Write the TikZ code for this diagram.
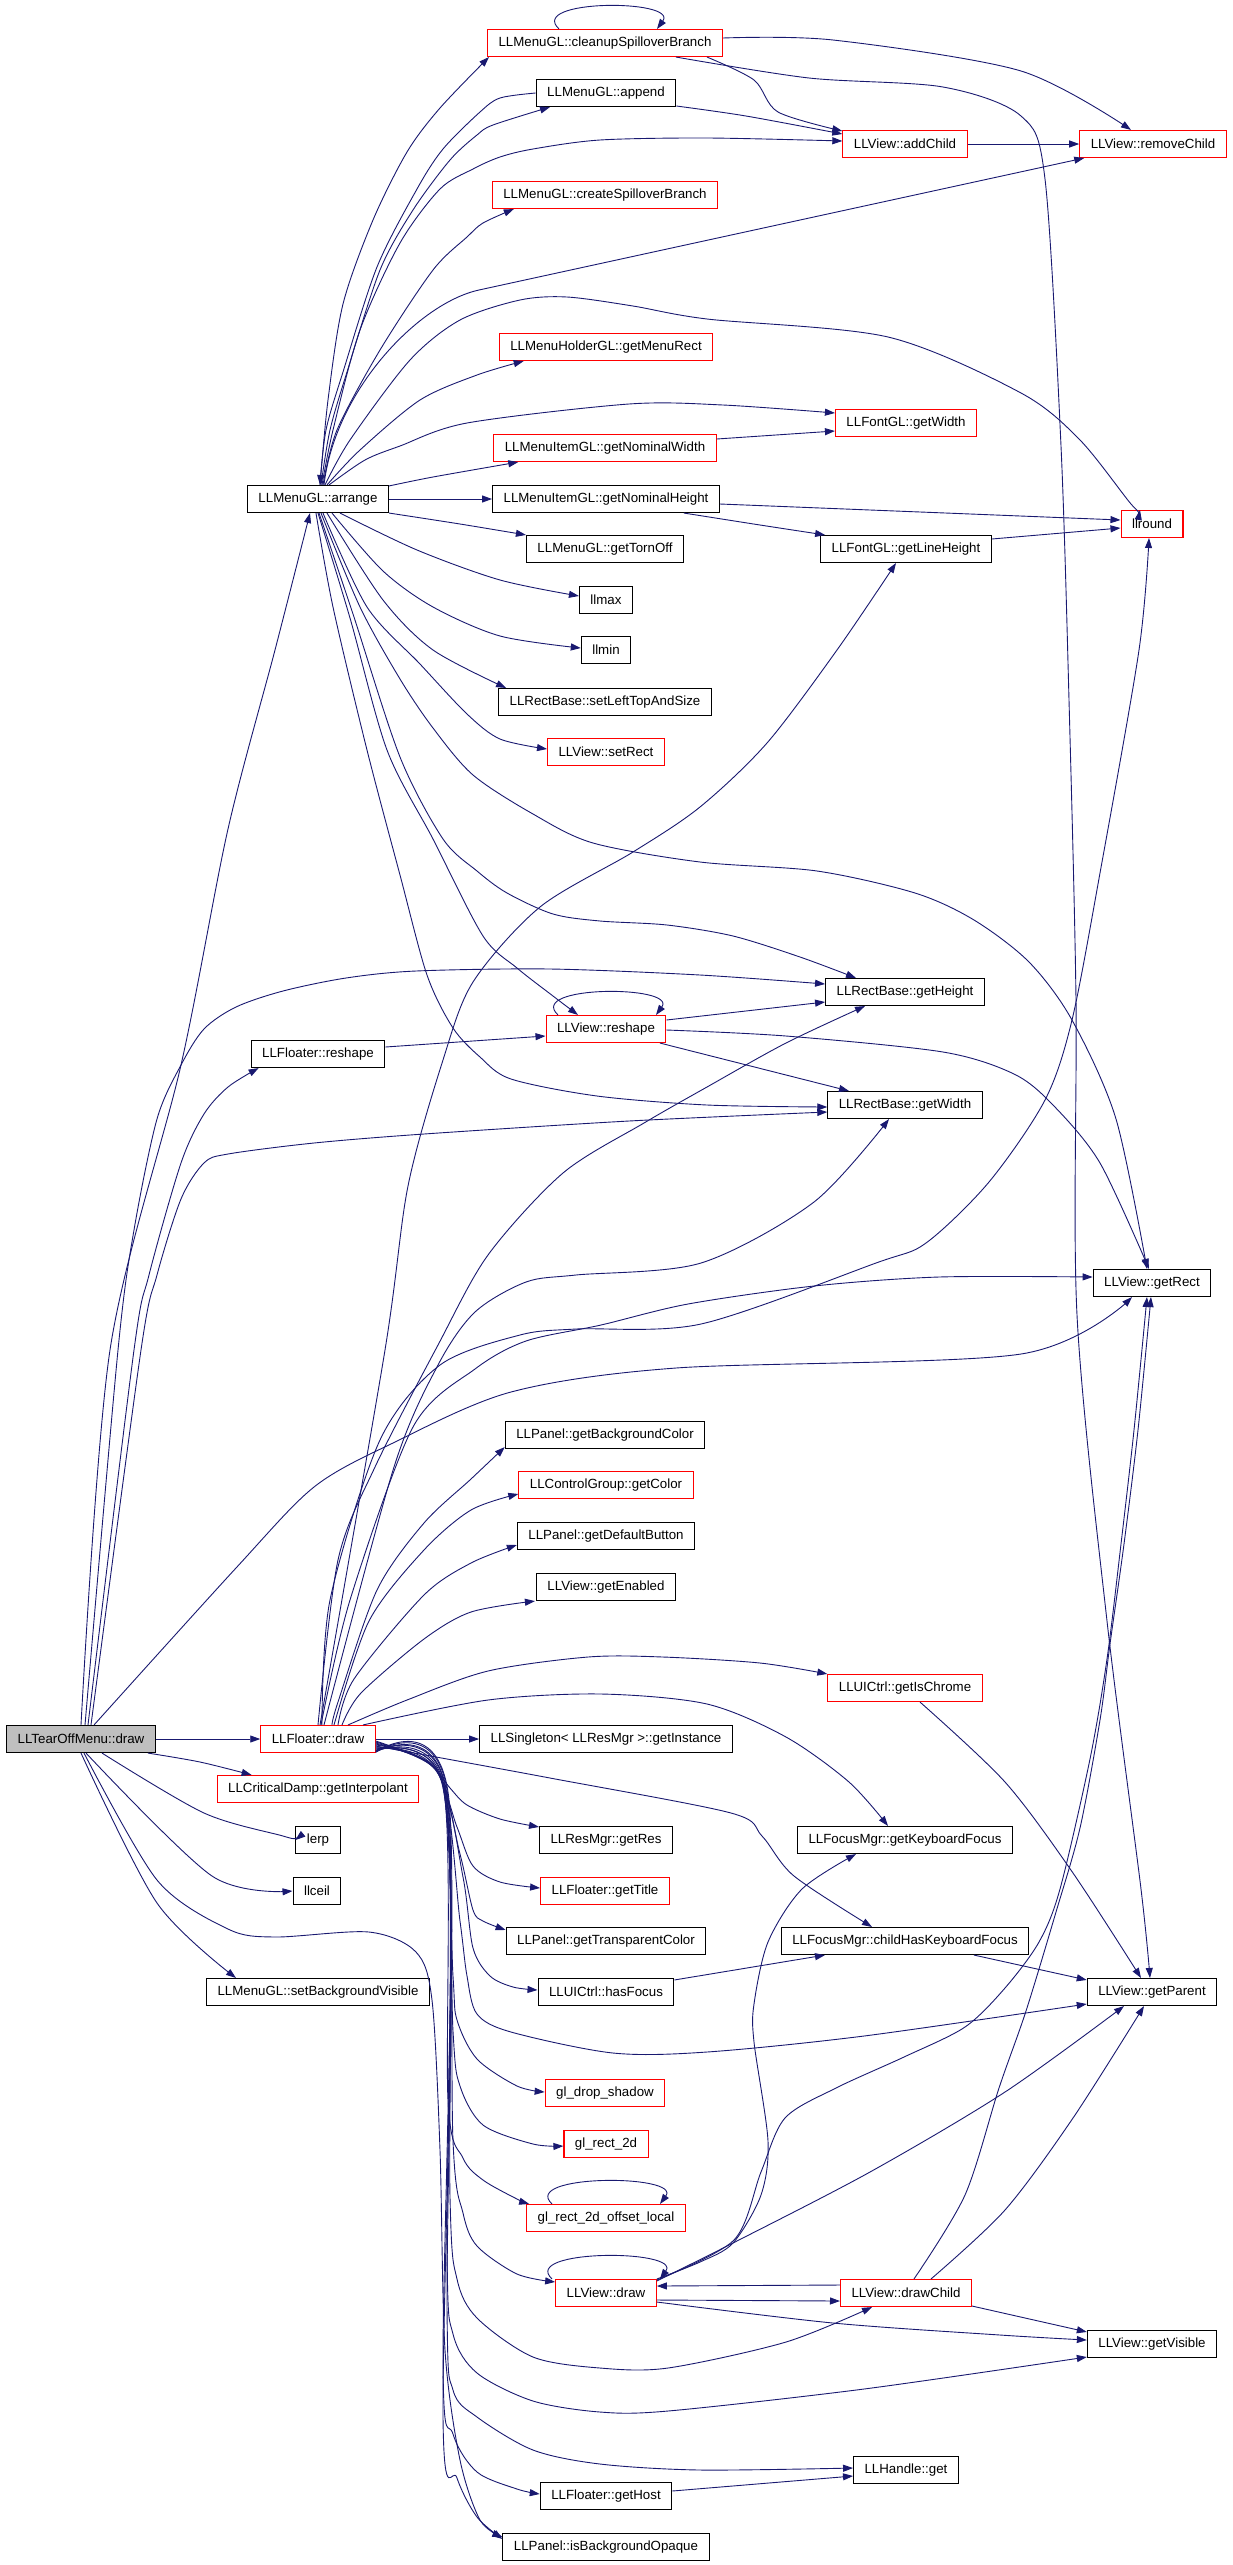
\documentclass[tikz,border=0pt]{standalone}
\usepackage{fontspec}
\setmainfont{Liberation Sans}
\usetikzlibrary{arrows.meta}
\definecolor{navy}{RGB}{25,25,112}
\definecolor{rootgray}{RGB}{191,191,191}
\newcommand\fnsize{\fontsize{13.3pt}{16pt}\selectfont}
\begin{document}
\begin{tikzpicture}[x=1pt,y=-1pt,
  fn/.style={draw=black,fill=white,line width=1.1pt,inner xsep=11pt,inner ysep=0pt,minimum height=27pt,font=\fnsize},
  fnred/.style={fn,draw=red},
  call/.style={navy,line width=0.9pt,-{Triangle[length=10pt,width=7pt]}}]
\useasboundingbox (0,0) rectangle (1232,2565);
\node[fnred] (cleanup) at (605,43) {LLMenuGL::cleanupSpilloverBranch};
\node[fn] (append) at (606,93) {LLMenuGL::append};
\node[fnred] (addChild) at (905,144) {LLView::addChild};
\node[fnred] (removeChild) at (1153,144) {LLView::removeChild};
\node[fnred] (createSpill) at (605,195) {LLMenuGL::createSpilloverBranch};
\node[fnred] (menuRect) at (606,347) {LLMenuHolderGL::getMenuRect};
\node[fnred] (fontWidth) at (906,423) {LLFontGL::getWidth};
\node[fnred] (nomWidth) at (605,448) {LLMenuItemGL::getNominalWidth};
\node[fn] (arrange) at (318,499) {LLMenuGL::arrange};
\node[fn] (nomHeight) at (606,499) {LLMenuItemGL::getNominalHeight};
\node[fnred] (llround) at (1152,524) {llround};
\node[fn] (tornOff) at (605,549) {LLMenuGL::getTornOff};
\node[fn] (lineHeight) at (906,549) {LLFontGL::getLineHeight};
\node[fn] (llmax) at (606,600) {llmax};
\node[fn] (llmin) at (606,650) {llmin};
\node[fn] (setLTS) at (605,702) {LLRectBase::setLeftTopAndSize};
\node[fnred] (setRect) at (606,752) {LLView::setRect};
\node[fn] (getHeight) at (905,992) {LLRectBase::getHeight};
\node[fnred] (vreshape) at (606,1029) {LLView::reshape};
\node[fn] (freshape) at (318,1054) {LLFloater::reshape};
\node[fn] (getWidth) at (905,1105) {LLRectBase::getWidth};
\node[fn] (getRect) at (1152,1283) {LLView::getRect};
\node[fn] (bgColor) at (605,1435) {LLPanel::getBackgroundColor};
\node[fnred] (ctrlColor) at (606,1485) {LLControlGroup::getColor};
\node[fn] (defButton) at (606,1536) {LLPanel::getDefaultButton};
\node[fn] (enabled) at (606,1587) {LLView::getEnabled};
\node[fnred] (isChrome) at (905,1688) {LLUICtrl::getIsChrome};
\node[fn,fill=rootgray] (tearoff) at (81,1739) {LLTearOffMenu::draw};
\node[fnred] (fdraw) at (318,1739) {LLFloater::draw};
\node[fn] (instance) at (606,1739) {LLSingleton< LLResMgr >::getInstance};
\node[fnred] (interp) at (318,1789) {LLCriticalDamp::getInterpolant};
\node[fn] (lerp) at (318,1840) {lerp};
\node[fn] (resGet) at (606,1840) {LLResMgr::getRes};
\node[fn] (kbFocus) at (905,1840) {LLFocusMgr::getKeyboardFocus};
\node[fn] (llceil) at (317,1891) {llceil};
\node[fnred] (title) at (605,1891) {LLFloater::getTitle};
\node[fn] (transp) at (606,1941) {LLPanel::getTransparentColor};
\node[fn] (childKb) at (905,1941) {LLFocusMgr::childHasKeyboardFocus};
\node[fn] (setBgVis) at (318,1992) {LLMenuGL::setBackgroundVisible};
\node[fn] (hasFocus) at (606,1992) {LLUICtrl::hasFocus};
\node[fn] (getParent) at (1152,1992) {LLView::getParent};
\node[fnred] (dropShadow) at (605,2093) {gl\_drop\_shadow};
\node[fnred] (rect2d) at (606,2144) {gl\_rect\_2d};
\node[fnred] (rectLocal) at (606,2218) {gl\_rect\_2d\_offset\_local};
\node[fnred] (vdraw) at (606,2293) {LLView::draw};
\node[fnred] (drawChild) at (906,2293) {LLView::drawChild};
\node[fn] (getVisible) at (1152,2344) {LLView::getVisible};
\node[fn] (handleGet) at (906,2470) {LLHandle::get};
\node[fn] (getHost) at (606,2496) {LLFloater::getHost};
\node[fn] (bgOpaque) at (606,2547) {LLPanel::isBackgroundOpaque};

\draw[call] plot[smooth] coordinates {([xshift=2pt]arrange.north) (328,400) (343,304) (373,220) (407,152) (440,108) ([xshift=2pt]cleanup.south west)};
\draw[call] plot[smooth] coordinates {(append.west) (500,98) (480,112) (443,149) (417,189) (377,267) (343,372) (326,430) ([xshift=2pt]arrange.north)};
\draw[call] plot[smooth] coordinates {([xshift=3pt]arrange.north) (330,430) (347,372) (380,270) (413,210) (450,160) (477,135) (493,125) ([xshift=-56pt]append.south)};
\draw[call] plot[smooth] coordinates {([xshift=4pt]arrange.north) (333,430) (360,330) (400,243) (440,189) (473,169) (500,157) (533,149) (600,140) (707,138) ([yshift=3pt]addChild.west)};
\draw[call] plot[smooth] coordinates {([xshift=5pt]arrange.north) (337,430) (380,350) (433,270) (467,237) (483,223) ([xshift=22pt]createSpill.south west)};
\draw[call] ([xshift=6pt]arrange.north) .. controls (335,390) and (419,303) .. (479,290) -- ([xshift=5pt]removeChild.south west);
\draw[call] plot[smooth] coordinates {([xshift=7pt]arrange.north) (350,440) (410,360) (460,320) (520,300) (567,297) (633,306) (707,319) (888,337) (1021,393) (1080,440) (1131,504) ([xshift=-12pt]llround.north)};
\draw[call] plot[smooth] coordinates {([xshift=9pt]arrange.north) (360,450) (420,400) (477,375) ([xshift=25pt]menuRect.south west)};
\draw[call] plot[smooth] coordinates {([xshift=11pt]arrange.north) (365,460) (400,446) (467,423) (629,404) (723,405) ([yshift=10pt]fontWidth.west)};
\draw[call] plot[smooth] coordinates {([yshift=-1pt]arrange.north east) (433,477) ([xshift=25pt]nomWidth.south west)};
\draw[call] (arrange.east) -- (nomHeight.west);
\draw[call] plot[smooth] coordinates {(arrange.south east) (460,524) (tornOff.north west)};
\draw[call] plot[smooth] coordinates {([xshift=22pt]arrange.south) (417,550) (500,580) ([yshift=4pt]llmax.west)};
\draw[call] plot[smooth] coordinates {([xshift=14pt]arrange.south) (383,571) (433,607) (500,636) ([yshift=2pt]llmin.west)};
\draw[call] plot[smooth] coordinates {([xshift=9pt]arrange.south) (383,600) (433,650) ([xshift=8pt]setLTS.north west)};
\draw[call] plot[smooth] coordinates {([xshift=5pt]arrange.south) (367,607) (420,664) (467,714) (500,739) ([yshift=3pt]setRect.west)};
\draw[call] plot[smooth] coordinates {([xshift=3pt]arrange.south) (360,607) (400,679) (433,728) (473,775) (533,814) (593,843) (700,862) (817,871) (915,893) (974,920) (1029,962) (1072,1020) (1116,1119) ([xshift=-5pt]getRect.north)};
\draw[call] plot[smooth] coordinates {([xshift=1pt]arrange.south) (353,614) (400,757) (443,839) (477,871) (507,893) (553,914) (600,921) (667,925) (733,936) (800,957) ([xshift=-49pt]getHeight.north)};
\draw[call] plot[smooth] coordinates {(arrange.south) (350,618) (387,750) (433,839) (483,936) (517,968) (553,996) ([xshift=-28pt]vreshape.north)};
\draw[call] plot[smooth] coordinates {([xshift=-2pt]arrange.south) (333,607) (367,750) (400,875) (427,975) (453,1028) (480,1057) (511,1079) (597,1096) (707,1105) ([yshift=-2pt]getWidth.west)};

\draw[call] ([xshift=-46pt]cleanup.north) .. controls +(-32,-30) and +(22,-30) .. ([xshift=52pt]cleanup.north);
\draw[call] plot[smooth] coordinates {([xshift=102pt]cleanup.south) (754,80) (778,112) ([yshift=13pt]addChild.west)};
\draw[call] plot[smooth] coordinates {([yshift=5pt]cleanup.east) (833,40) (1021,71) ([xshift=-22pt]removeChild.north)};
\draw[call] plot[smooth] coordinates {([xshift=71pt]cleanup.south) (809,78) (943,87) (1021,116) (1045,179) (1061,446) (1069,700) (1076,1000) (1077,1315) (1107,1621) (1141,1889) ([xshift=-2pt]getParent.north)};
\draw[call] plot[smooth] coordinates {([yshift=-13pt]append.east) (746,116) ([yshift=10pt]addChild.west)};
\draw[call] (addChild.east) -- (removeChild.west);
\draw[call] ([yshift=9pt]nomWidth.east) -- ([yshift=-8pt]fontWidth.west);
\draw[call] ([yshift=-5pt]nomHeight.east) -- ([yshift=4pt]llround.west);
\draw[call] plot[smooth] coordinates {([xshift=78pt]nomHeight.south) (760,525) ([xshift=5pt]lineHeight.north west)};
\draw[call] ([yshift=10pt]lineHeight.east) -- ([yshift=-4pt]llround.west);

\draw[call] ([xshift=-48pt]vreshape.north) .. controls +(-32,-30) and +(22,-30) .. ([xshift=50pt]vreshape.north);
\draw[call] ([yshift=7pt]freshape.east) -- ([yshift=-7pt]vreshape.west);
\draw[call] ([yshift=9pt]vreshape.east) -- ([yshift=-10pt]getHeight.west);
\draw[call] ([xshift=54pt]vreshape.south) -- ([xshift=-56pt]getWidth.north);
\draw[call] plot[smooth] coordinates {([yshift=-1pt]vreshape.east) (786,1036) (943,1052) (1014,1074) (1053,1105) (1100,1163) ([xshift=-3pt]getRect.north)};

\draw[call] plot[smooth] coordinates {(tearoff.north) (110,1350) (181,1065) (228,829) (275,650) ([xshift=-8pt]arrange.south)};
\draw[call] plot[smooth] coordinates {([xshift=7pt]tearoff.north) (134,1350) (149,1275) (181,1163) (204,1114) (228,1087) ([xshift=8pt]freshape.south west)};
\draw[call] plot[smooth] coordinates {([xshift=4pt]tearoff.north) (118,1350) (134,1230) (157,1119) (181,1065) (204,1029) (236,1007) (283,991) (346,978) (416,971) (550,969) (700,975) ([yshift=8pt]getHeight.west)};
\draw[call] plot[smooth] coordinates {([xshift=10pt]tearoff.north) (141,1350) (157,1275) (181,1199) (204,1163) (228,1154) (314,1143) (424,1134) (629,1121) ([yshift=-7pt]getWidth.west)};
\draw[call] plot[smooth] coordinates {([xshift=13pt]tearoff.north) (236,1568) (314,1487) (393,1443) (511,1392) (676,1368) (1021,1354) ([xshift=-20pt]getRect.south)};
\draw[call] (tearoff.east) -- (fdraw.west);
\draw[call] plot[smooth] coordinates {([xshift=-8pt]tearoff.south east) (200,1762) ([xshift=35pt]interp.north west)};
\draw[call] plot[smooth] coordinates {([xshift=21pt]tearoff.south) (204,1813) (283,1836) (lerp.west)};
\draw[call] plot[smooth] coordinates {([xshift=5pt]tearoff.south) (212,1876) (llceil.west)};
\draw[call] plot[smooth] coordinates {(tearoff.south) (157,1903) ([xshift=-82pt]setBgVis.north)};
\draw[call] plot[smooth] coordinates {([xshift=3pt]tearoff.south) (157,1880) (228,1929) (275,1937) (369,1932) (416,1952) (432,2000) (440,2150) (445,2350) (460,2460) (480,2520) ([yshift=-4pt]bgOpaque.north west)};

\draw[call] plot[smooth] coordinates {([xshift=2pt]fdraw.north) (385,1350) (408,1186) (443,1060) (473,982) (540,907) (633,852) (700,807) (767,743) (837,650) ([xshift=-10pt]lineHeight.south)};
\draw[call] plot[smooth] coordinates {([xshift=4pt]fdraw.north) (330,1600) (380,1440) (440,1365) (520,1335) (576,1329) (701,1324) (876,1263) (926,1243) (989,1182) (1045,1100) (1072,1020) (1100,873) (1139,650) ([xshift=-3pt]llround.south)};
\draw[call] plot[smooth] coordinates {(fdraw.north) (338,1560) (375,1467) (438,1345) (488,1255) (563,1173) (644,1123) (707,1087) (786,1043) ([xshift=-40pt]getHeight.south)};
\draw[call] plot[smooth] coordinates {([xshift=6pt]fdraw.north) (394,1467) (438,1365) (475,1312) (526,1282) (576,1275) (701,1263) (814,1202) ([xshift=-16pt]getWidth.south)};
\draw[call] plot[smooth] coordinates {([xshift=3pt]fdraw.north) (350,1600) (413,1427) (475,1369) (526,1341) (601,1325) (688,1304) (814,1286) (939,1277) ([yshift=6pt]getRect.west)};
\draw[call] plot[smooth] coordinates {([xshift=14pt]fdraw.north) (338,1702) (377,1590) (424,1523) (471,1479) ([yshift=2pt]bgColor.south west)};
\draw[call] plot[smooth] coordinates {([xshift=16pt]fdraw.north) (369,1621) (424,1550) (471,1510) ([yshift=-9pt]ctrlColor.west)};
\draw[call] plot[smooth] coordinates {([xshift=20pt]fdraw.north) (354,1679) (424,1595) (471,1563) ([yshift=-9pt]defButton.west)};
\draw[call] plot[smooth] coordinates {([xshift=24pt]fdraw.north) (361,1693) (424,1639) (471,1612) ([xshift=-1pt]enabled.south west)};
\draw[call] plot[smooth] coordinates {([xshift=30pt]fdraw.north) (407,1700) (488,1671) (588,1657) (663,1657) (760,1663) (isChrome.north west)};
\draw[call] plot[smooth] coordinates {([xshift=45pt]fdraw.north) (488,1700) (601,1694) (707,1704) (786,1737) (849,1782) ([xshift=-17pt]kbFocus.north)};
\draw[call] (fdraw.east) -- (instance.west);
\draw[call] plot[smooth] coordinates {([yshift=-7pt]fdraw.east) (550,1778) (731,1813) (762,1836) (794,1876) ([xshift=-33pt]childKb.north)};

\draw[call] plot[smooth] coordinates {([yshift=-2pt]fdraw.east) (427,1761) (450,1788) (467,1805) (500,1819) ([yshift=-1pt]resGet.north west)};
\draw[call] plot[smooth] coordinates {([yshift=-3pt]fdraw.east) (433,1766) (457,1827) (473,1866) (500,1882) ([yshift=3pt]title.west)};
\draw[call] plot[smooth] coordinates {([yshift=-4pt]fdraw.east) (436,1770) (460,1854) (473,1910) (483,1921) ([yshift=-3pt]transp.north west)};
\draw[call] plot[smooth] coordinates {([yshift=-5pt]fdraw.east) (438,1772) (463,1877) (473,1948) (490,1976) (513,1987) ([yshift=2pt]hasFocus.west)};
\draw[call] plot[smooth] coordinates {([yshift=-6pt]fdraw.east) (440,1775) (460,1921) (467,1976) (477,2014) (511,2032) (613,2053) (707,2052) (864,2036) ([yshift=-12pt]getParent.west)};
\draw[call] plot[smooth] coordinates {([yshift=-8pt]fdraw.east) (441,1780) (453,1976) (457,2020) (477,2059) (517,2086) ([yshift=1pt]dropShadow.west)};
\draw[call] plot[smooth] coordinates {([yshift=-9pt]fdraw.east) (442,1782) (453,2031) (460,2086) (483,2125) (533,2144) ([yshift=-2pt]rect2d.west)};
\draw[call] plot[smooth] coordinates {([yshift=-10pt]fdraw.east) (443,1785) (448,2100) (463,2158) (483,2180) (517,2199) ([xshift=3pt]rectLocal.north west)};
\draw[call] plot[smooth] coordinates {([yshift=-11pt]fdraw.east) (444,1788) (453,2141) (463,2213) (477,2246) (517,2274) ([yshift=-3pt]vdraw.north west)};
\draw[call] plot[smooth] coordinates {([yshift=-12pt]fdraw.east) (445,1790) (450,2197) (457,2279) (477,2318) (533,2357) (600,2368) (668,2368) (786,2342) ([xshift=-34pt]drawChild.south)};
\draw[call] plot[smooth] coordinates {([yshift=-12pt]fdraw.east) (446,1792) (447,2252) (453,2334) (477,2373) (533,2401) (600,2412) (668,2411) (864,2389) ([yshift=-13pt]getVisible.west)};
\draw[call] plot[smooth] coordinates {([yshift=-13pt]fdraw.east) (447,1795) (447,2307) (453,2390) (477,2417) (533,2450) (600,2464) (700,2470) ([yshift=2pt]handleGet.west)};
\draw[call] plot[smooth] coordinates {([yshift=-13pt]fdraw.east) (448,1797) (443,2362) (453,2434) (477,2472) (517,2489) ([yshift=2pt]getHost.west)};
\draw[call] plot[smooth] coordinates {([yshift=-13pt]fdraw.east) (449,1800) (443,2417) (457,2478) (477,2517) ([yshift=-6pt]bgOpaque.north west)};

\draw[call] ([xshift=-54pt]rectLocal.north) .. controls +(-32,-30) and +(22,-30) .. ([xshift=54pt]rectLocal.north);
\draw[call] ([xshift=-54pt]vdraw.north) .. controls +(-32,-30) and +(22,-30) .. ([xshift=54pt]vdraw.north);
\draw[call] plot[smooth] coordinates {([yshift=-2pt]hasFocus.north east) ([xshift=-80pt]childKb.south)};
\draw[call] ([xshift=69pt]childKb.south) -- ([yshift=-2pt]getParent.north west);
\draw[call] plot[smooth] coordinates {([xshift=15pt]isChrome.south) (1005,1782) (1073,1873) ([xshift=-11pt]getParent.north)};
\draw[call] plot[smooth] coordinates {(vdraw.north east) (700,2262) (733,2243) (761,2195) (768,2141) (754,2042) (754,2004) (768,1942) (802,1889) ([xshift=-49pt]kbFocus.south)};
\draw[call] plot[smooth] coordinates {([yshift=-1pt]vdraw.north east) (734,2240) (761,2172) (785,2118) (836,2088) (904,2057) (965,2027) (1005,1988) (1039,1942) (1060,1889) (1090,1759) (1107,1659) (1121,1544) (1134,1430) ([xshift=-5pt]getRect.south)};
\draw[call] plot[smooth] coordinates {([xshift=8pt]drawChild.north) (965,2195) (999,2088) (1026,2011) (1056,1912) (1080,1828) (1100,1720) (1110,1644) (1124,1544) (1138,1430) ([xshift=-1pt]getRect.south)};
\draw[call] plot[smooth] coordinates {([yshift=-2pt]vdraw.north east) (733,2243) (870,2172) (1005,2092) ([xshift=-28pt]getParent.south)};
\draw[call] plot[smooth] coordinates {([xshift=25pt]drawChild.north) (1005,2210) (1073,2118) ([xshift=-8pt]getParent.south)};
\draw[call] ([yshift=8pt]drawChild.west) -- ([yshift=7pt]vdraw.east);
\draw[call] ([yshift=-7pt]vdraw.east) -- ([yshift=-8pt]drawChild.west);
\draw[call] plot[smooth] coordinates {([yshift=-9pt]vdraw.east) (833,2323) (1000,2335) ([yshift=4pt]getVisible.west)};
\draw[call] ([yshift=-13pt]drawChild.east) -- ([yshift=-2pt]getVisible.north west);
\draw[call] ([yshift=5pt]getHost.east) -- ([yshift=-6pt]handleGet.west);
\end{tikzpicture}
\end{document}
